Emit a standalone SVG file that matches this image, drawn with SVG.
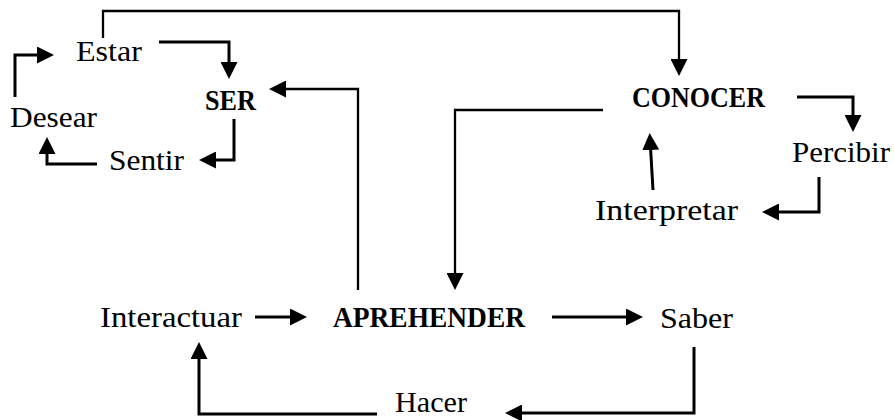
<svg xmlns="http://www.w3.org/2000/svg" width="894" height="420" viewBox="0 0 894 420">
  <style>
    .lbl { font-family: "Liberation Serif", "Times New Roman", serif; font-size: 30px; fill: #000; }
    .bold { font-weight: bold; }
    .link { fill: none; stroke: #000; stroke-width: 3; stroke-linejoin: miter; marker-end: url(#head); }
    .thin { stroke-width: 2.3; }
  </style>
  <defs>
    <marker id="head" markerUnits="userSpaceOnUse" markerWidth="17" markerHeight="17" viewBox="0 0 17 17" refX="11" refY="8.5" orient="auto">
      <path d="M0,0 L17,8.5 L0,17 z" fill="#000"/>
    </marker>
  </defs>

  <!-- connectors -->
  <g id="connectors">
    <path class="link thin" d="M103,38 V11 H679 V70"/>
    <path class="link" d="M159,42 H229 V73"/>
    <path class="link" d="M234,119 V160 H205"/>
    <path class="link" d="M97,164 H47 V143"/>
    <path class="link" d="M15,97 V55 H48"/>
    <path class="link thin" d="M358,290 V89 H275"/>
    <path class="link thin" d="M603,110 H455 V284"/>
    <path class="link" d="M797,97 H853 V126"/>
    <path class="link" d="M819,177 V212 H768"/>
    <path class="link" d="M653,190 L650,139"/>
    <path class="link" d="M255,317 H301"/>
    <path class="link" d="M552,317 H637"/>
    <path class="link" d="M694,347 V413 H511"/>
    <path class="link" d="M377,414 H199 V348"/>
  </g>

  <!-- nodes -->
  <g id="estar"><text class="lbl" x="76" y="61" textLength="66" lengthAdjust="spacingAndGlyphs">Estar</text></g>
  <g id="ser"><text class="lbl bold" x="205" y="110" textLength="51" lengthAdjust="spacingAndGlyphs">SER</text></g>
  <g id="desear"><text class="lbl" x="10" y="127" textLength="87" lengthAdjust="spacingAndGlyphs">Desear</text></g>
  <g id="sentir"><text class="lbl" x="109" y="170" textLength="75" lengthAdjust="spacingAndGlyphs">Sentir</text></g>
  <g id="conocer"><text class="lbl bold" x="632" y="107" textLength="133" lengthAdjust="spacingAndGlyphs">CONOCER</text></g>
  <g id="percibir"><text class="lbl" x="792" y="162" textLength="98" lengthAdjust="spacingAndGlyphs">Percibir</text></g>
  <g id="interpretar"><text class="lbl" x="595" y="220" textLength="143" lengthAdjust="spacingAndGlyphs">Interpretar</text></g>
  <g id="interactuar"><text class="lbl" x="100" y="327" textLength="142" lengthAdjust="spacingAndGlyphs">Interactuar</text></g>
  <g id="aprehender"><text class="lbl bold" x="333" y="327" textLength="192" lengthAdjust="spacingAndGlyphs">APREHENDER</text></g>
  <g id="saber"><text class="lbl" x="660" y="328" textLength="73" lengthAdjust="spacingAndGlyphs">Saber</text></g>
  <g id="hacer"><text class="lbl" x="395" y="412" textLength="72" lengthAdjust="spacingAndGlyphs">Hacer</text></g>
</svg>
